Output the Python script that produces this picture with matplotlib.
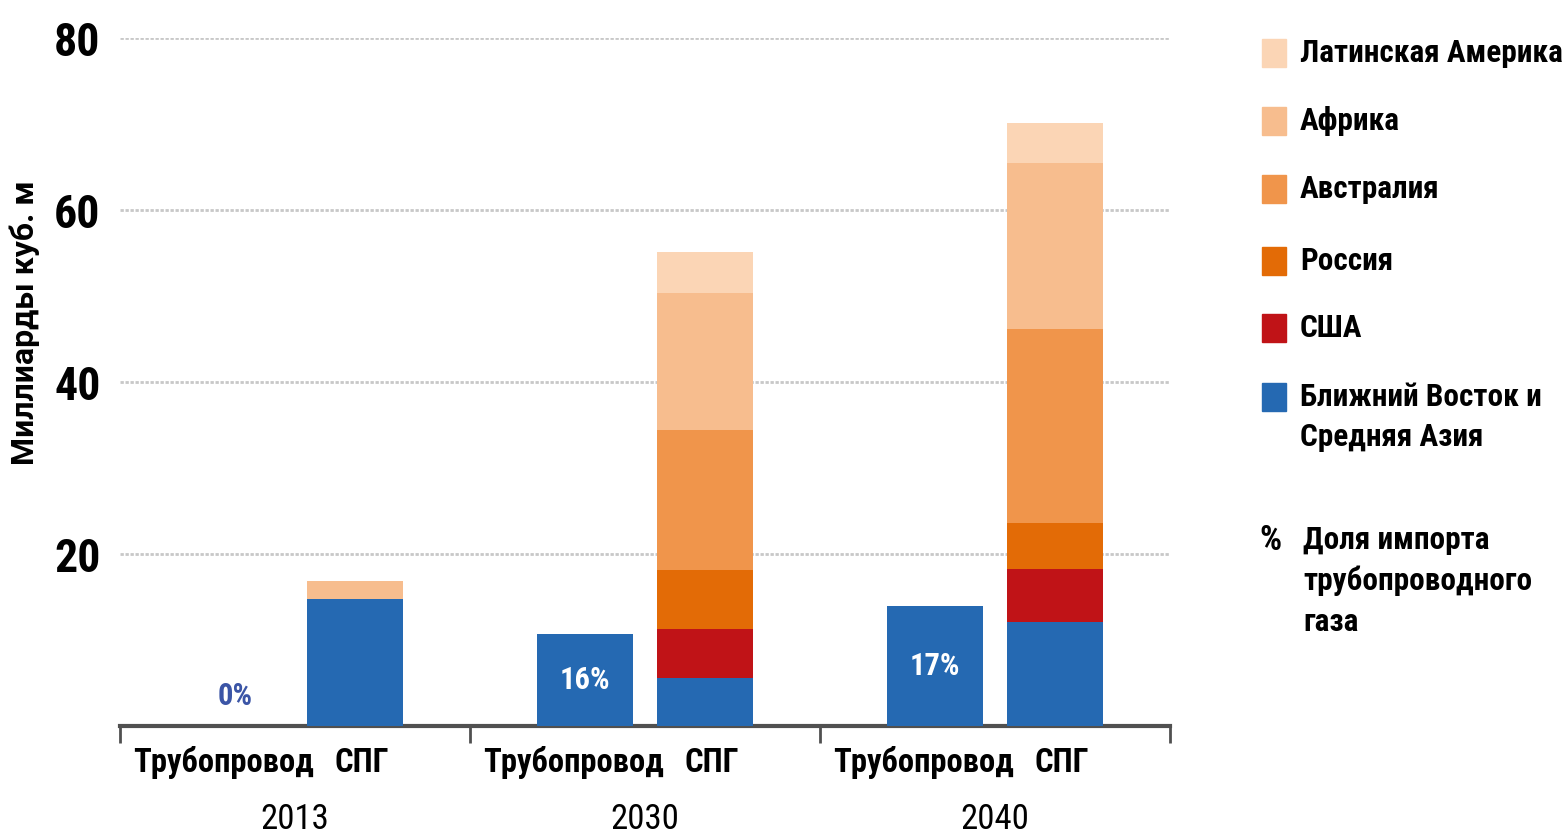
import matplotlib
matplotlib.use("Agg")
import matplotlib.pyplot as plt
from matplotlib.patches import Rectangle

plt.rcParams["font.family"] = ["Roboto Condensed", "DejaVu Sans Condensed",
                               "Roboto", "DejaVu Sans"]

# data (billion cubic metres)
years = ["2013", "2030", "2040"]
pipeline = [0.0, 10.7, 14.0]
pipeline_share = ["0%", "16%", "17%"]

lng_names = ["Ближний Восток и\nСредняя Азия", "США", "Россия",
             "Австралия", "Африка", "Латинская Америка"]
lng_values = [
    [14.8, 5.6, 12.1],   # middle east / central asia
    [0.0, 5.7, 6.2],     # usa
    [0.0, 6.8, 5.3],     # russia
    [0.0, 16.3, 22.6],   # australia
    [2.1, 16.0, 19.3],   # africa
    [0.0, 4.7, 4.6],     # latin america
]
colors = ["#2569b2", "#c01317", "#e36b06", "#f0954b", "#f7bd8e", "#fbd5b5"]
cat_labels = ["Трубопровод", "СПГ"]

fig = plt.figure(figsize=(15.68, 8.36), dpi=100)
ax = fig.add_axes([120 / 1568, 1 - 726 / 836, 1050 / 1568, 688 / 836])

n = len(years)
pipe_x = [i + 0.329 for i in range(n)]
lng_x = [i + 0.671 for i in range(n)]
width = 0.274

ax.bar(pipe_x, pipeline, width, color=colors[0], zorder=3)
bottom = [0.0] * n
for vals, c in zip(lng_values, colors):
    ax.bar(lng_x, vals, width, bottom=bottom, color=c, zorder=3)
    bottom = [b + v for b, v in zip(bottom, vals)]

# pipeline share labels
for x, h, s in zip(pipe_x, pipeline, pipeline_share):
    if h == 0:
        ax.text(x, 3.5, s, ha="center", va="center", color="#3b55a6",
                fontsize=22, fontweight="bold", zorder=4)
    else:
        ax.text(x, h / 2, s, ha="center", va="center", color="white",
                fontsize=22, fontweight="bold", zorder=4)

ax.set_xlim(0, n)
ax.set_ylim(0, 80)
ax.set_yticks([20, 40, 60, 80])
ax.set_yticklabels(["20", "40", "60", "80"], fontsize=33, fontweight="bold")
ax.tick_params(axis="y", length=0, pad=14)
for y in [20, 40, 60, 80]:
    ax.axhline(y, color="#c8c8c8", lw=2, ls=(0, (1.2, 0.6)), zorder=1)

# group separators on the x axis
ax.set_xticks(range(n + 1))
ax.set_xticklabels([])
ax.tick_params(axis="x", direction="out", length=12, width=2, color="#505050")

for side in ["top", "right", "left"]:
    ax.spines[side].set_visible(False)
ax.spines["bottom"].set_color("#505050")
ax.spines["bottom"].set_linewidth(3)

for i in range(n):
    ax.text(pipe_x[i] - 0.034, -4.3, cat_labels[0], ha="center", va="center",
            fontsize=23.5, fontweight="bold")
    ax.text(lng_x[i] + 0.02, -4.3, cat_labels[1], ha="center", va="center",
            fontsize=23.5, fontweight="bold")
    ax.text(i + 0.5, -10.9, years[i], ha="center", va="center", fontsize=25)

ax.set_ylabel("Миллиарды куб. м", fontsize=23, fontweight="bold",
              family=["Roboto", "DejaVu Sans"])
ax.yaxis.set_label_coords(-0.0762, 0.586)

# legend drawn by hand on the right (pixel rows from the reference)
legend_rows = [(5, 53), (4, 121), (3, 189), (2, 261), (1, 328), (0, 397)]
for idx, ypix in legend_rows:
    fig.patches.append(Rectangle((1262 / 1568, 1 - (ypix + 14) / 836),
                                 24 / 1568, 28 / 836,
                                 transform=fig.transFigure,
                                 color=colors[idx]))
    for k, line in enumerate(lng_names[idx].split("\n")):
        fig.text(1300 / 1568, 1 - (ypix + 40 * k) / 836, line, ha="left",
                 va="center", fontsize=22.5, fontweight="bold")

fig.text(1259 / 1568, 1 - 541 / 836, "%", ha="left", va="center",
         fontsize=25, fontweight="bold")
for k, line in enumerate(["Доля импорта", "трубопроводного", "газа"]):
    fig.text(1303 / 1568, 1 - (540 + 41 * k) / 836, line, ha="left",
             va="center", fontsize=22.5, fontweight="bold")

fig.savefig("out.png", dpi=100)
